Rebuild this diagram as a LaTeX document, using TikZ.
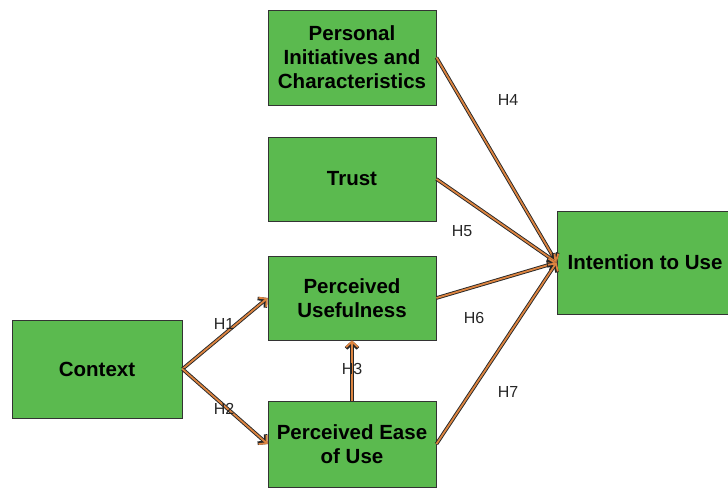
\documentclass[tikz,border=0pt]{standalone}
\usepackage{fontspec}
\setmainfont{Liberation Sans}
\usetikzlibrary{arrows.meta}
\definecolor{boxgreen}{HTML}{5BBA4F}
\definecolor{arrorange}{HTML}{DD8440}
\definecolor{boxline}{HTML}{333333}
\tikzset{
  box/.style={draw=boxline, line width=0.9pt, fill=boxgreen, inner sep=2pt,
    align=center, font=\bfseries\fontsize{20.5}{24}\selectfont},
  arrout/.style={draw=black!85, line width=3.6pt, -{Straight Barb[length=5.5pt,width=12pt]}},
  arrin/.style={draw=arrorange, line width=1.8pt, -{Straight Barb[length=5.5pt,width=12pt]}},
  hlabel/.style={font=\fontsize{16}{19}\selectfont, text=black!85, inner sep=0pt}
}
\newcommand\hconn[2]{\draw[arrout] (#1) -- (#2); \draw[arrin] (#1) -- (#2);}
\begin{document}
\begin{tikzpicture}[x=1pt,y=-1pt]
\useasboundingbox (0,0) rectangle (728,488);
\node[box, minimum width=168pt, minimum height=95pt] (pers) at (352,57.5) {Personal\\Initiatives and\\Characteristics};
\node[box, minimum width=168pt, minimum height=84pt] (trust) at (352,179) {Trust};
\node[box, minimum width=168pt, minimum height=84pt] (pu) at (352,298) {Perceived\\Usefulness};
\node[box, minimum width=168pt, minimum height=86pt] (peou) at (352,444) {Perceived Ease\\of Use};
\node[box, minimum width=170pt, minimum height=98pt] (ctx) at (97,369) {Context};
\node[box, minimum width=173pt, minimum height=103pt] (int) at (643.5,262.5) {\hspace*{3pt}Intention to Use};
\hconn{ctx.east}{pu.west}
\hconn{ctx.east}{peou.west}
\hconn{peou.north}{pu.south}
\hconn{pers.east}{int.west}
\hconn{trust.east}{int.west}
\hconn{pu.east}{int.west}
\hconn{peou.east}{int.west}
\node[hlabel] (h1) at (224,324) {H1};
\node[hlabel] (h2) at (224,409) {H2};
\node[hlabel] (h3) at (352,369) {H3};
\node[hlabel] (h4) at (508,100) {H4};
\node[hlabel] (h5) at (462,231) {H5};
\node[hlabel] (h6) at (474,318) {H6};
\node[hlabel] (h7) at (508,392) {H7};
\end{tikzpicture}
\end{document}
